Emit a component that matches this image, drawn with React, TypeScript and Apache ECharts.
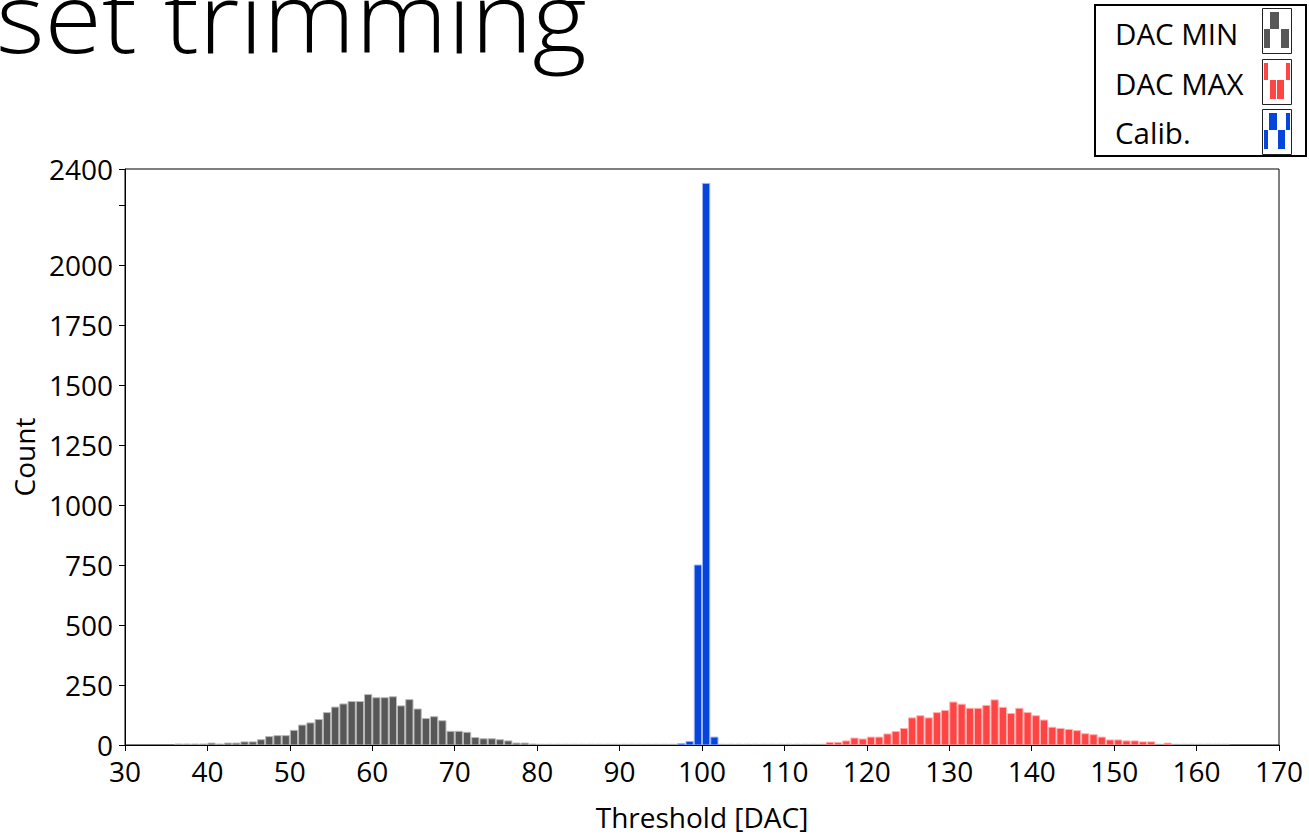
import React, { useEffect, useRef } from "react";
import * as echarts from "echarts";

// Histogram bins: one bin per DAC step, value = pixel count in that bin.
const SERIES_NAMES = ["DAC MIN", "DAC MAX", "Calib."];

const dacMinStart = 36;
const dacMinCounts = [
  // 36 - 79
  4, 4, 4, 4, 8, 4, 8, 8, 13, 13,
  22, 35, 39, 39, 61, 83, 92, 106, 135, 158,
  171, 181, 181, 210, 197, 197, 201, 163, 189, 150,
  110, 118, 101, 57, 57, 53, 31, 26, 26, 22,
  17, 8, 8, 4,
  // 80 - 96
  3, 3, 3, 3, 3, 3, 3, 3, 3, 3, 3, 3, 3, 3, 3, 3, 3,
  // 97 - 101
  3, 3, 3, 3, 3,
  // 102 - 114
  3, 3, 3, 3, 3, 3, 3, 3, 3, 3, 3, 3, 3,
  // 115 - 156
  3, 3, 3, 3, 3, 3, 3, 3, 3, 3, 3, 3, 3, 3, 3, 3, 3, 3, 3, 3, 3,
  3, 3, 3, 3, 3, 3, 3, 3, 3, 3, 3, 3, 3, 3, 3, 3, 3, 3, 3, 3, 3,
  // 157 - 163
  3, 3, 3, 3, 3, 3, 3,
];

const dacMaxStart = 115;
const dacMaxCounts = [
  11, 11, 17, 29, 25, 33, 33, 46, 56, 69,
  113, 122, 113, 135, 144, 179, 170, 153, 153, 165,
  188, 157, 131, 153, 135, 122, 104, 74, 69, 65,
  60, 47, 43, 33, 21, 21, 17, 17, 13, 13,
  0, 8,
];

const calibStart = 97;
const calibCounts = [6, 15, 750, 2340, 33];

const xTicks = { min: 30, max: 170, interval: 10 };
const yTicks = { min: 0, max: 2400, interval: 250, hidden: [2250] };

const COLORS = ["#575757", "#ff4444", "#0545dd"];
const EDGE_COLORS = ["#b8b8b8", "#ffb0b0", "#9ab4f4"];

const FONT = "'Open Sans', 'Noto Sans', sans-serif";

const toBins = (start: number, counts: number[]) =>
  counts.map((c, i) => [start + i, c]);

function makeSeries(name: string, data: number[][], idx: number) {
  return {
    type: "custom",
    name,
    data,
    clip: true,
    encode: { x: 0, y: 1 },
    itemStyle: { color: COLORS[idx] },
    renderItem: (_params: any, api: any) => {
      const x = api.value(0);
      const v = api.value(1);
      if (!v) return null;
      const p0 = api.coord([x, 0]);
      const p1 = api.coord([x + 1, v]);
      const w = p1[0] - p0[0];
      return {
        type: "rect",
        shape: {
          x: p0[0] + 0.5,
          y: p1[1],
          width: w - 1,
          height: p0[1] - p1[1],
        },
        style: {
          fill: COLORS[idx],
          stroke: EDGE_COLORS[idx],
          lineWidth: 1,
        },
      };
    },
  };
}

// Small stair-shaped swatches drawn in the legend box.
const legendIcons: { top: number; bars: [number, number, boolean][] }[] = [
  { top: 8, bars: [[1264, 1270, false], [1270, 1279, true], [1281, 1289, false]] },
  { top: 59, bars: [[1264, 1268, true], [1270, 1276, false], [1277, 1284, false], [1286, 1290, true]] },
  { top: 109, bars: [[1264, 1268, false], [1269, 1277, true], [1278, 1285, false], [1286, 1290, true]] },
];
const legendTextY = [33, 83, 132];

function legendGraphics() {
  const els: any[] = [
    {
      type: "rect",
      shape: { x: 1095, y: 5, width: 211, height: 151 },
      style: { fill: "#fff", stroke: "#000", lineWidth: 2 },
      z: 10,
    },
  ];
  SERIES_NAMES.forEach((name, i) => {
    els.push({
      type: "text",
      x: 1115,
      y: legendTextY[i],
      style: {
        text: name,
        font: `29.5px ${FONT}`,
        fill: "#000",
        verticalAlign: "middle",
        align: "left",
      },
      z: 11,
    });
    const ic = legendIcons[i];
    els.push({
      type: "rect",
      shape: { x: 1262.5, y: ic.top + 0.5, width: 29, height: 45 },
      style: { fill: "#fff", stroke: "#222", lineWidth: 1 },
      z: 11,
    });
    ic.bars.forEach(([x0, x1, upper]) => {
      els.push({
        type: "rect",
        shape: {
          x: x0,
          y: ic.top + (upper ? 4 : 21),
          width: x1 - x0,
          height: upper ? 17 : 19,
        },
        style: { fill: COLORS[i] },
        z: 12,
      });
    });
  });
  return els;
}

export default function App() {
  const ref = useRef<HTMLDivElement>(null);

  useEffect(() => {
    if (!ref.current) return;
    const chart = echarts.init(ref.current, null, { renderer: "svg" });

    const axisCommon = {
      axisLine: { show: true, onZero: false, lineStyle: { color: "#000", width: 1 } },
      axisTick: { show: true, length: 6, lineStyle: { color: "#000" } },
      splitLine: { show: false },
      nameLocation: "middle",
      nameTextStyle: { fontSize: 28, color: "#000", fontFamily: FONT },
    };

    chart.setOption({
      animation: false,
      backgroundColor: "#fff",
      grid: {
        left: 125,
        right: 30,
        top: 169,
        bottom: 93,
        show: true,
        borderColor: "#000",
        borderWidth: 1,
        backgroundColor: "transparent",
      },
      xAxis: {
        type: "value",
        min: xTicks.min,
        max: xTicks.max,
        interval: xTicks.interval,
        name: "Threshold [DAC]",
        nameGap: 58,
        ...axisCommon,
        axisLabel: { fontSize: 28, color: "#000", fontFamily: FONT, margin: 12 },
      },
      yAxis: {
        type: "value",
        min: yTicks.min,
        max: yTicks.max,
        interval: yTicks.interval,
        name: "Count",
        nameGap: 85,
        nameRotate: 90,
        ...axisCommon,
        axisLabel: {
          fontSize: 28,
          color: "#000",
          fontFamily: FONT,
          margin: 12,
          formatter: (v: number) => (yTicks.hidden.includes(v) ? "" : String(v)),
        },
      },
      series: [
        makeSeries(SERIES_NAMES[0], toBins(dacMinStart, dacMinCounts), 0),
        makeSeries(SERIES_NAMES[1], toBins(dacMaxStart, dacMaxCounts), 1),
        makeSeries(SERIES_NAMES[2], toBins(calibStart, calibCounts), 2),
      ],
      graphic: [
        {
          type: "text",
          x: -4,
          y: 15,
          scaleX: 1.065,
          style: {
            text: "set trimming",
            font: `300 98px ${FONT}`,
            fill: "#000",
            verticalAlign: "middle",
            align: "left",
          },
          z: 5,
        },
        ...legendGraphics(),
      ],
    });

    return () => chart.dispose();
  }, []);

  return (
    <div
      ref={ref}
      style={{ position: "fixed", left: 0, top: 0, width: 1309, height: 838 }}
    />
  );
}
